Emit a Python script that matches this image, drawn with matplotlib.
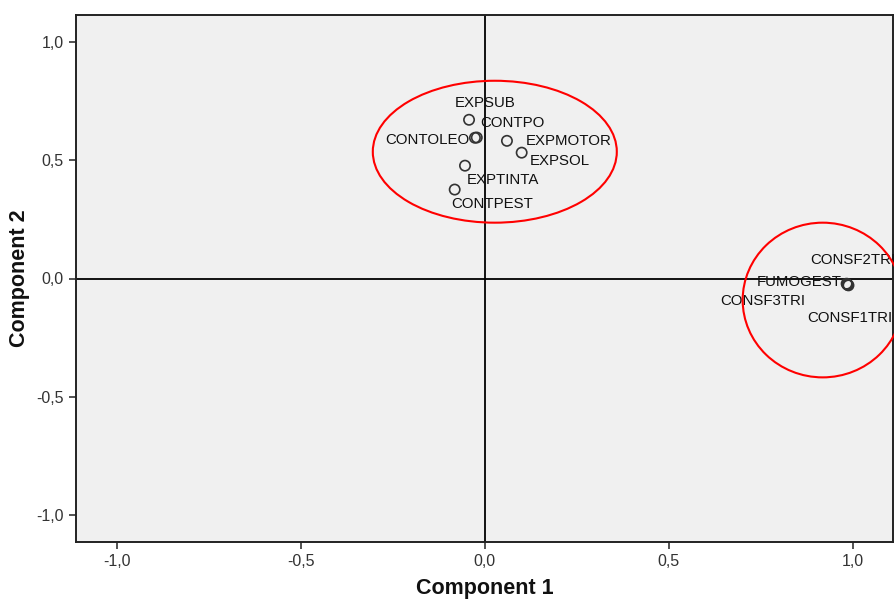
import matplotlib
matplotlib.use("Agg")
import matplotlib.pyplot as plt
from matplotlib.patches import Ellipse

# ---- data ----
names = ["EXPSUB", "CONTPO", "CONTOLEO", "EXPMOTOR", "EXPSOL", "EXPTINTA", "CONTPEST",
         "CONSF2TRI", "FUMOGEST", "CONSF3TRI", "CONSF1TRI"]
comp1 = [-0.043, -0.022, -0.027, 0.060, 0.100, -0.054, -0.082,
         0.983, 0.985, 0.986, 0.988]
comp2 = [0.671, 0.596, 0.595, 0.582, 0.532, 0.477, 0.376,
         -0.022, -0.025, -0.027, -0.029]

x_ticks = [-1.0, -0.5, 0.0, 0.5, 1.0]
y_ticks = [-1.0, -0.5, 0.0, 0.5, 1.0]
x_label = "Component 1"
y_label = "Component 2"

# label placement (pixel offsets from the point, horizontal alignment)
label_offsets = {
    "EXPSUB": (-14, 17, "left"),
    "CONTPO": (3, 15, "left"),
    "CONTOLEO": (-5, -2, "right"),
    "EXPMOTOR": (19, 0, "left"),
    "EXPSOL": (8, -8, "left"),
    "EXPTINTA": (2, -14, "left"),
    "CONTPEST": (-3, -14, "left"),
    "CONSF2TRI": (-36, 24, "left"),
    "FUMOGEST": (-6, 2, "right"),
    "CONSF3TRI": (-42, -16, "right"),
    "CONSF1TRI": (-41, -33, "left"),
}

fig = plt.figure(figsize=(8.95, 6.01), dpi=100)
ax = fig.add_axes([76 / 895, 59 / 601, 817 / 895, 527 / 601])
ax.set_facecolor("#f0f0f0")
ax.set_xlim(-1.111, 1.109)
ax.set_ylim(-1.114, 1.114)

ax.axhline(0, color="black", lw=1.3, zorder=1)
ax.axvline(0, color="black", lw=1.3, zorder=1)

ax.scatter(comp1, comp2, s=55, facecolors="none", edgecolors="#333333",
           linewidths=1.2, zorder=3)

px = 72 / 100
for n, x, y in zip(names, comp1, comp2):
    dx, dy, ha = label_offsets[n]
    ax.annotate(n, (x, y), xytext=(dx * px, dy * px), textcoords="offset points",
                ha=ha, va="center", fontsize=10.8, family="Liberation Sans",
                color="#111111", zorder=4, annotation_clip=False)

# red highlighting ellipses
ax.add_patch(Ellipse((0.027, 0.536), 0.663, 0.600, fill=False, edgecolor="red",
                     lw=1.5, zorder=5, clip_on=False))
ax.add_patch(Ellipse((0.918, -0.091), 0.435, 0.654, fill=False, edgecolor="red",
                     lw=1.5, zorder=5, clip_on=False))

ax.set_xticks(x_ticks)
ax.set_yticks(y_ticks)
ax.set_xticklabels([f"{v:.1f}".replace(".", ",") for v in x_ticks])
ax.set_yticklabels([f"{v:.1f}".replace(".", ",") for v in y_ticks])
ax.tick_params(direction="out", length=5, width=1.2, color="#333333",
               labelsize=11.5, labelcolor="#333333", pad=4)
for lab in ax.get_xticklabels() + ax.get_yticklabels():
    lab.set_family("Liberation Sans")
for sp in ax.spines.values():
    sp.set_linewidth(1.4)
    sp.set_color("#222222")

ax.set_xlabel(x_label, fontsize=15.5, fontweight="bold", family="Liberation Sans",
              color="#111111")
ax.set_ylabel(y_label, fontsize=15.5, fontweight="bold", family="Liberation Sans",
              color="#111111")
ax.xaxis.set_label_coords((485 - 76) / 817, -0.068)
ax.yaxis.set_label_coords(-0.0565, 0.5)

fig.savefig("out.png", dpi=100)
